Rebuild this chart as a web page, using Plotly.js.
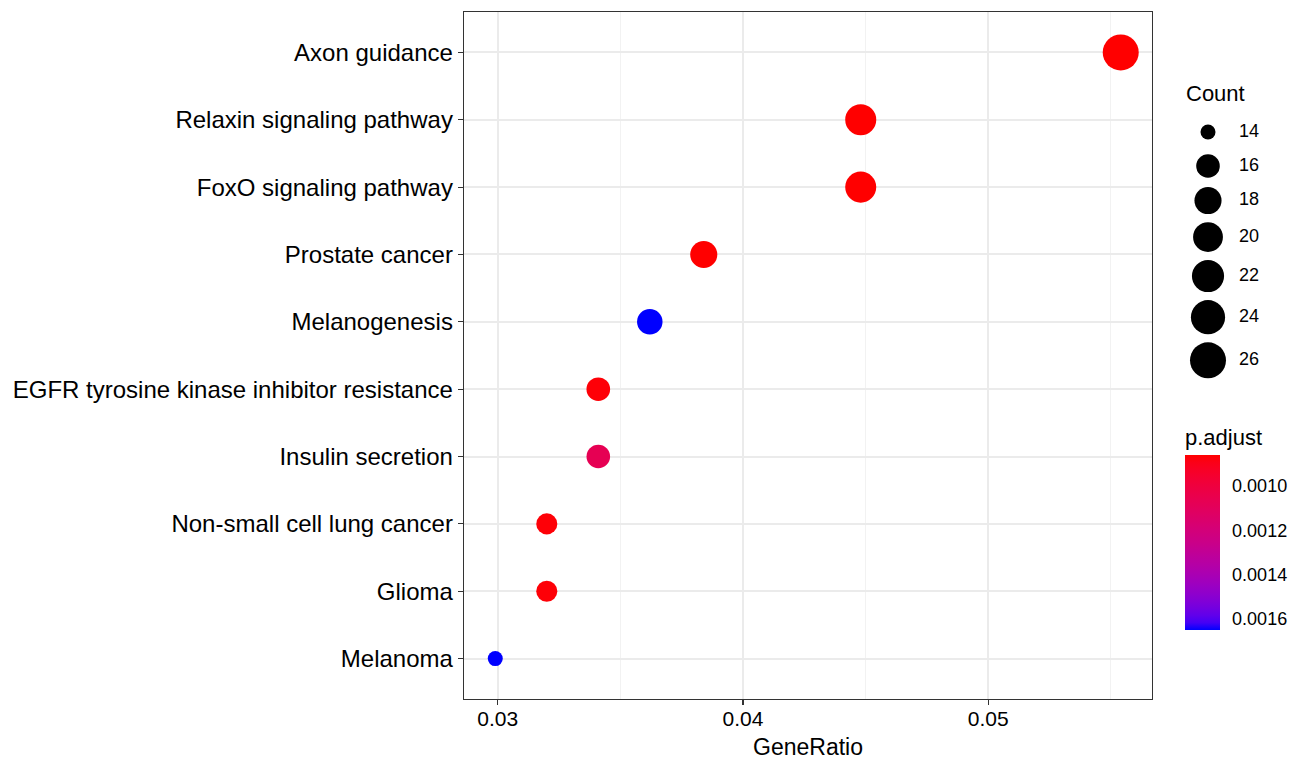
<!DOCTYPE html>
<html>
<head>
<meta charset="utf-8">
<script src="https://cdn.plot.ly/plotly-3.0.1.min.js"></script>
<style>
  html, body { margin: 0; padding: 0; background: #fff; }
  #chart { width: 1296px; height: 760px; }
</style>
</head>
<body>
<div id="chart"></div>
<script>
// KEGG enrichment dot plot
const terms = [
  "Axon guidance",
  "Relaxin signaling pathway",
  "FoxO signaling pathway",
  "Prostate cancer",
  "Melanogenesis",
  "EGFR tyrosine kinase inhibitor resistance",
  "Insulin secretion",
  "Non-small cell lung cancer",
  "Glioma",
  "Melanoma"
];
const geneRatio = [0.0554, 0.0448, 0.0448, 0.0384, 0.0362, 0.0341, 0.0341, 0.0320, 0.0320, 0.0299];
const counts    = [26, 21, 21, 18, 17, 16, 16, 15, 15, 14];
const pAdjust   = [0.00086, 0.00086, 0.00086, 0.00086, 0.00165, 0.00087, 0.00107, 0.00087, 0.00087, 0.00165];

const xTicks = [0.03, 0.04, 0.05];
const sizeBreaks = [14, 16, 18, 20, 22, 24, 26];
const colorBreaks = [0.0010, 0.0012, 0.0014, 0.0016];

const FONT = "Liberation Sans, Arial, Helvetica, sans-serif";

// ---- size scale: area palette (sqrt rescale of count onto 1..6), then to pixels
const cMin = Math.min(...counts), cMax = Math.max(...counts);
function sizeOf(c) {
  const s = 1 + 5 * Math.sqrt((c - cMin) / (cMax - cMin));
  return 10.8 + 4.2 * s;
}

// ---- colour scale: red (low p) to blue (high p), interpolated in CIE Lab
function toLin(c) { c /= 255; return c <= 0.04045 ? c / 12.92 : Math.pow((c + 0.055) / 1.055, 2.4); }
function fromLin(c) { const v = c <= 0.0031308 ? 12.92 * c : 1.055 * Math.pow(c, 1 / 2.4) - 0.055; return Math.round(Math.min(1, Math.max(0, v)) * 255); }
const WN = [0.95047, 1.0, 1.08883];
function rgb2lab([r, g, b]) {
  r = toLin(r); g = toLin(g); b = toLin(b);
  const X = (0.4124 * r + 0.3576 * g + 0.1805 * b) / WN[0];
  const Y = (0.2126 * r + 0.7152 * g + 0.0722 * b) / WN[1];
  const Z = (0.0193 * r + 0.1192 * g + 0.9505 * b) / WN[2];
  const f = t => t > 0.008856 ? Math.cbrt(t) : 7.787 * t + 16 / 116;
  const fx = f(X), fy = f(Y), fz = f(Z);
  return [116 * fy - 16, 500 * (fx - fy), 200 * (fy - fz)];
}
function lab2rgb([L, a, b]) {
  const fy = (L + 16) / 116, fx = fy + a / 500, fz = fy - b / 200;
  const finv = t => t * t * t > 0.008856 ? t * t * t : (t - 16 / 116) / 7.787;
  const X = finv(fx) * WN[0], Y = finv(fy) * WN[1], Z = finv(fz) * WN[2];
  const r = 3.2406 * X - 1.5372 * Y - 0.4986 * Z;
  const g = -0.9689 * X + 1.8758 * Y + 0.0415 * Z;
  const bb = 0.0557 * X - 0.2040 * Y + 1.0570 * Z;
  return `rgb(${fromLin(r)},${fromLin(g)},${fromLin(bb)})`;
}
const labLow = rgb2lab([255, 0, 0]);   // smallest p.adjust
const labHigh = rgb2lab([0, 0, 255]);  // largest p.adjust
// colour values are negated p so the bar reads small p at the top
const colorscale = [];
const N = 24;
for (let i = 0; i <= N; i++) {
  const t = i / N;             // 0 = largest p (blue), 1 = smallest p (red)
  const lab = labHigh.map((v, k) => v + (labLow[k] - v) * t);
  colorscale.push([t, lab2rgb(lab)]);
}
const pMin = Math.min(...pAdjust), pMax = Math.max(...pAdjust);

// ---- page geometry (pixels)
const W = 1296, H = 760;
const M = { l: 464, r: 0, t: 12, b: 61 };
const plotW = W - M.l - M.r, plotH = H - M.t - M.b;
const panelRight = 1152;
const px2x = p => (p - M.l) / plotW;
const px2y = p => (H - M.b - p) / plotH;

// colour bar box
const barLeft = 1185, barW = 35, barTop = 457, barBottom = 630, barTitleH = 32;

// x range: data range with 5% expansion
const gMin = Math.min(...geneRatio), gMax = Math.max(...geneRatio);
const gPad = (gMax - gMin) * 0.05;

// size legend keys stacked like guide_legend
const legendX = 1208, legendTop = 115;
const keyH = sizeBreaks.map(c => Math.max(34, sizeOf(c) + 8));
const keyY = [];
{
  let y = legendTop;
  keyH.forEach((h) => { keyY.push(y + h / 2); y += h; });
}

const mainTrace = {
  type: "scatter",
  mode: "markers",
  x: geneRatio,
  y: terms,
  xaxis: "x", yaxis: "y",
  marker: {
    size: counts.map(sizeOf),
    sizemode: "diameter",
    color: pAdjust.map(v => -v),
    colorscale: colorscale,
    cmin: -pMax,
    cmax: -pMin,
    opacity: 1,
    line: { width: 0 },
    showscale: true,
    colorbar: {
      x: px2x(barLeft), xanchor: "left",
      y: px2y(barBottom), yanchor: "bottom",
      thickness: barW, thicknessmode: "pixels",
      len: barBottom - barTop + barTitleH, lenmode: "pixels",
      xpad: 0, ypad: 0,
      outlinewidth: 0,
      tickvals: colorBreaks.map(v => -v),
      ticktext: colorBreaks.map(v => v.toFixed(4)),
      ticks: "outside", ticklen: 9, tickcolor: "rgba(255,255,255,0)", tickwidth: 1,
      tickfont: { family: FONT, size: 18, color: "#000" },
      title: { text: "p.adjust", side: "top", font: { family: FONT, size: 22, color: "#000" } }
    }
  },
  hoverinfo: "x+y",
  showlegend: false
};

const sizeKeyTrace = {
  type: "scatter",
  mode: "markers",
  x: sizeBreaks.map(() => legendX),
  y: keyY,
  xaxis: "x2", yaxis: "y2",
  marker: { size: sizeBreaks.map(sizeOf), sizemode: "diameter", color: "#000", opacity: 1, line: { width: 0 } },
  hoverinfo: "skip",
  showlegend: false
};
const sizeLabelTrace = {
  type: "scatter",
  mode: "text",
  x: sizeBreaks.map(() => 1239),
  y: keyY,
  text: sizeBreaks.map(String),
  textposition: "middle right",
  textfont: { family: FONT, size: 18, color: "#000" },
  xaxis: "x2", yaxis: "y2",
  hoverinfo: "skip",
  showlegend: false
};

// white tick marks drawn across both edges of the colour bar
const barTickShapes = [];
colorBreaks.forEach(v => {
  const yPx = barBottom - ((pMax - v) / (pMax - pMin)) * (barBottom - barTop);
  [[barLeft, barLeft + 7], [barLeft + barW - 7, barLeft + barW]].forEach(([a, b]) => {
    barTickShapes.push({
      type: "line", xref: "paper", yref: "paper",
      x0: px2x(a), x1: px2x(b), y0: px2y(yPx), y1: px2y(yPx),
      line: { color: "#ffffff", width: 1.2 }
    });
  });
});

const layout = {
  width: W, height: H,
  margin: M,
  paper_bgcolor: "#fff",
  plot_bgcolor: "#fff",
  font: { family: FONT, color: "#000" },
  showlegend: false,
  xaxis: {
    domain: [0, px2x(panelRight)],
    range: [gMin - gPad, gMax + gPad],
    tickvals: xTicks,
    tickformat: ".2f",
    ticks: "outside", ticklen: 5, tickwidth: 1.2, tickcolor: "#333",
    ticklabelstandoff: -5,
    tickfont: { family: FONT, size: 21, color: "#000" },
    showgrid: true, gridcolor: "#EBEBEB", gridwidth: 2,
    minor: { dtick: 0.005, tick0: 0.025, showgrid: true, gridcolor: "#F2F2F2", gridwidth: 1, ticks: "" },
    zeroline: false,
    showline: true, mirror: true, linecolor: "#333", linewidth: 1.3,
    title: { text: "GeneRatio", font: { family: FONT, size: 23, color: "#000" }, standoff: 10 },
    anchor: "y",
    fixedrange: true
  },
  yaxis: {
    type: "category",
    categoryorder: "array",
    categoryarray: terms.slice().reverse(),
    range: [-0.6, terms.length - 0.4],
    ticks: "outside", ticklen: 5, tickwidth: 1.2, tickcolor: "#333",
    tickfont: { family: FONT, size: 24, color: "#000" },
    showgrid: true, gridcolor: "#EBEBEB", gridwidth: 2,
    zeroline: false,
    showline: true, mirror: true, linecolor: "#333", linewidth: 1.3,
    anchor: "x",
    fixedrange: true
  },
  xaxis2: {
    domain: [px2x(1170), 1],
    range: [1170, W],
    visible: false, fixedrange: true, anchor: "y2"
  },
  yaxis2: {
    domain: [px2y(390), px2y(100)],
    range: [390, 100],
    visible: false, fixedrange: true, anchor: "x2"
  },
  shapes: barTickShapes,
  annotations: [
    {
      text: "Count",
      xref: "paper", yref: "paper",
      x: px2x(1184), y: px2y(93),
      xanchor: "left", yanchor: "middle",
      showarrow: false,
      font: { family: FONT, size: 22, color: "#000" }
    }
  ]
};

Plotly.newPlot("chart", [mainTrace, sizeKeyTrace, sizeLabelTrace], layout, { displayModeBar: false, staticPlot: true });
</script>
</body>
</html>
